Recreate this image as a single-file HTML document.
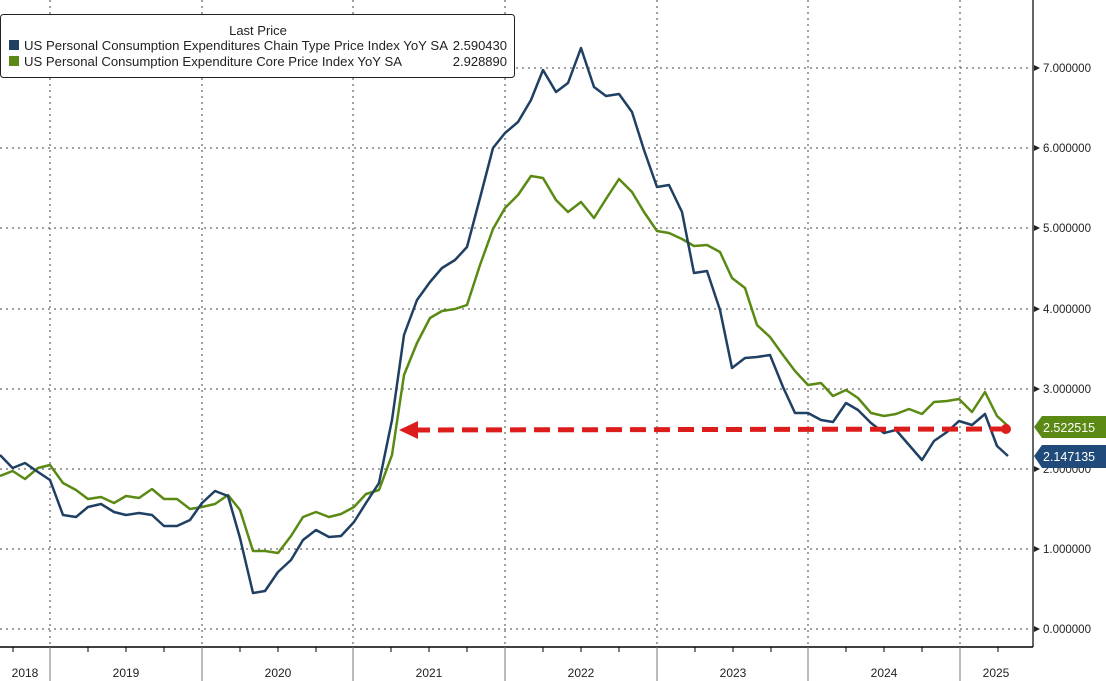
<!DOCTYPE html>
<html><head><meta charset="utf-8"><style>
body{margin:0;background:#fff;}
svg{display:block;font-family:"Liberation Sans",sans-serif;}
</style></head><body>
<svg width="1106" height="681" viewBox="0 0 1106 681">
<rect width="1106" height="681" fill="#fff"/>
<g stroke="#444" stroke-width="1" stroke-dasharray="2,4">
<line x1="0" x2="1032" y1="68" y2="68"/><line x1="0" x2="1032" y1="148" y2="148"/>
<line x1="0" x2="1032" y1="228" y2="228"/><line x1="0" x2="1032" y1="309" y2="309"/>
<line x1="0" x2="1032" y1="389" y2="389"/><line x1="0" x2="1032" y1="469" y2="469"/>
<line x1="0" x2="1032" y1="549" y2="549"/><line x1="0" x2="1032" y1="629" y2="629"/>
<line x1="50" x2="50" y1="0" y2="647"/><line x1="202" x2="202" y1="0" y2="647"/>
<line x1="353" x2="353" y1="0" y2="647"/><line x1="505" x2="505" y1="0" y2="647"/>
<line x1="657" x2="657" y1="0" y2="647"/><line x1="808" x2="808" y1="0" y2="647"/>
<line x1="960" x2="960" y1="0" y2="647"/>
</g>
<line x1="0" x2="1033" y1="647" y2="647" stroke="#000" stroke-width="1.5"/>
<line x1="1033" x2="1033" y1="0" y2="647" stroke="#000" stroke-width="1.2"/>
<g stroke="#777" stroke-width="1">
<line x1="50" x2="50" y1="647" y2="681"/><line x1="202" x2="202" y1="647" y2="681"/>
<line x1="353" x2="353" y1="647" y2="681"/><line x1="505" x2="505" y1="647" y2="681"/>
<line x1="657" x2="657" y1="647" y2="681"/><line x1="808" x2="808" y1="647" y2="681"/>
<line x1="960" x2="960" y1="647" y2="681"/>
</g>
<g stroke="#000" stroke-width="1">
<line x1="13" x2="13" y1="647" y2="652"/><line x1="88" x2="88" y1="647" y2="652"/><line x1="126" x2="126" y1="647" y2="652"/><line x1="164" x2="164" y1="647" y2="652"/>
<line x1="240" x2="240" y1="647" y2="652"/><line x1="278" x2="278" y1="647" y2="652"/><line x1="316" x2="316" y1="647" y2="652"/>
<line x1="391" x2="391" y1="647" y2="652"/><line x1="429" x2="429" y1="647" y2="652"/><line x1="467" x2="467" y1="647" y2="652"/>
<line x1="543" x2="543" y1="647" y2="652"/><line x1="581" x2="581" y1="647" y2="652"/><line x1="619" x2="619" y1="647" y2="652"/>
<line x1="695" x2="695" y1="647" y2="652"/><line x1="733" x2="733" y1="647" y2="652"/><line x1="771" x2="771" y1="647" y2="652"/>
<line x1="846" x2="846" y1="647" y2="652"/><line x1="884" x2="884" y1="647" y2="652"/><line x1="922" x2="922" y1="647" y2="652"/>
<line x1="998" x2="998" y1="647" y2="652"/>
</g>
<g font-size="12" fill="#222" text-anchor="middle">
<text x="25" y="677">2018</text><text x="126" y="677">2019</text><text x="278" y="677">2020</text>
<text x="429" y="677">2021</text><text x="581" y="677">2022</text><text x="733" y="677">2023</text>
<text x="884" y="677">2024</text><text x="996" y="677">2025</text>
</g>
<g font-size="11.5" fill="#222">
<text x="1043" y="72">7.000000</text><text x="1043" y="152">6.000000</text><text x="1043" y="232">5.000000</text>
<text x="1043" y="313">4.000000</text><text x="1043" y="393">3.000000</text><text x="1043" y="473">2.000000</text>
<text x="1043" y="553">1.000000</text><text x="1043" y="633">0.000000</text>
</g>
<g fill="#222">
<path d="M1034 65 l6 3 l-6 3z"/><path d="M1034 145 l6 3 l-6 3z"/><path d="M1034 225 l6 3 l-6 3z"/><path d="M1034 306 l6 3 l-6 3z"/>
<path d="M1034 386 l6 3 l-6 3z"/><path d="M1034 466 l6 3 l-6 3z"/><path d="M1034 546 l6 3 l-6 3z"/><path d="M1034 626 l6 3 l-6 3z"/>
</g>
<polyline fill="none" stroke="#5a8a14" stroke-width="2.5" stroke-linejoin="round" points="0,476 12.6,471 25,479 38,468 50,465 63,483 76,490 88,499 101,497 114,503 126,496 139,498 152,489 164,499 177,499 190,509 202,507 215,504 228,495 240,510 253,551 265,551 278,553 291,536 303,517 316,512 329,517 341,514 354,507 366,494 379,490 392,455 404,375 417,343 430,318 442,311 455,309 467,305 480,265 493,229 505,208 518,195 531,176 543,178 556,200 568,212 581,202 594,218 606,199 619,179 632,192 644,212 657,231 669,233 682,239 694,246 707,245 720,252 732,278 745,288 757,325 770,337 783,355 795,371 808,385 821,383 833,396 846,390 858,398 871,413 884,416 896,414 909,409 922,414 934,402 947,401 959,399 972,412 985,392 997,416 1008,426"/>
<polyline fill="none" stroke="#1f3f63" stroke-width="2.5" stroke-linejoin="round" points="0,455 12.6,468 25,463 38,472 50,480 63,515 76,517 88,507 101,504 114,512 126,515 139,513 152,515 164,526 177,526 190,520 202,503 215,491 228,496 240,538 253,593 265,591 278,572 291,560 303,540 316,530 329,537 341,536 354,522 366,503 379,483 392,420 404,335 417,300 430,282 442,268 455,260 467,247 480,198 493,148 505,133 518,122 531,100 543,70 556,92 568,83 581,48 594,87 606,96 619,94 632,112 644,150 657,187 669,185 682,212 694,273 707,271 720,310 732,368 745,358 757,357 770,355 783,387 795,413 808,413 821,420 833,422 846,403 858,410 871,423 884,433 896,430 909,445 922,460 934,441 947,432 959,421 972,425 985,414 997,446 1008,456"/>
<line x1="414" x2="1004" y1="430" y2="429" stroke="#dd1c1c" stroke-width="5" stroke-dasharray="16,8"/>
<path d="M399 430 L418 421 L418 439 Z" fill="#dd1c1c"/>
<circle cx="1006" cy="429" r="5" fill="#dd1c1c"/>
<path d="M1034 427 L1042 416 L1106 416 L1106 438 L1042 438 Z" fill="#5a8a14"/>
<text x="1043" y="432" font-size="12.5" fill="#fff">2.522515</text>
<path d="M1034 456 L1042 445 L1106 445 L1106 468 L1042 468 Z" fill="#1f4a7a"/>
<text x="1043" y="461" font-size="12.5" fill="#fff">2.147135</text>
<rect x="0.5" y="14.5" width="514" height="63" rx="3" fill="#fff" stroke="#222"/>
<text x="258" y="35" font-size="13" fill="#222" text-anchor="middle">Last Price</text>
<rect x="9" y="40" width="10" height="10" fill="#1f3f63"/>
<rect x="9" y="56" width="10" height="10" fill="#5a8a14"/>
<g font-size="13" fill="#222">
<text x="24" y="50" textLength="424" lengthAdjust="spacingAndGlyphs">US Personal Consumption Expenditures Chain Type Price Index YoY SA</text>
<text x="24" y="66" textLength="378" lengthAdjust="spacingAndGlyphs">US Personal Consumption Expenditure Core Price Index YoY SA</text>
<text x="507" y="50" text-anchor="end">2.590430</text>
<text x="507" y="66" text-anchor="end">2.928890</text>
</g>
</svg>
</body></html>
